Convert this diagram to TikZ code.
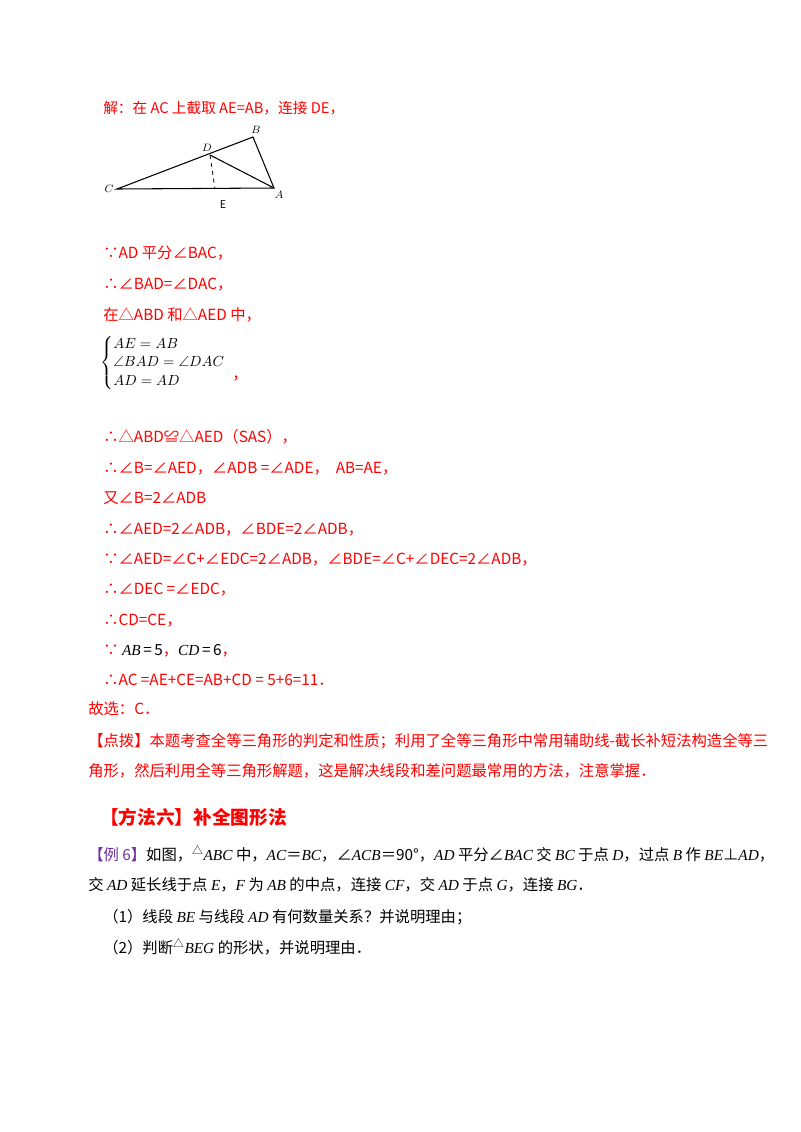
\documentclass[tikz,border=0pt]{standalone}
\usepackage{amsmath,amssymb}
\usepackage{fontspec}
\setmainfont{Noto Sans CJK SC}
\newfontfamily\tms{Liberation Serif}
\newcommand{\mi}[1]{{\tms\itshape #1}}
\definecolor{rd}{HTML}{FF0000}
\definecolor{pu}{HTML}{7030A0}
\begin{document}
\begin{tikzpicture}[x=0.75pt,y=-0.75pt,
  t/.style={anchor=base west,inner sep=0pt,font=\fontsize{11.5pt}{13pt}\selectfont,text=rd},
  k/.style={anchor=base west,inner sep=0pt,font=\fontsize{11.5pt}{13pt}\selectfont,text=black},
  lb/.style={inner sep=0pt,font=\fontsize{8pt}{9pt}\selectfont\itshape}]
\useasboundingbox[fill=white] (0,0) rectangle (800,1132);
\node[t,font=\fontsize{11pt}{13pt}\selectfont] (l1) at (103,113) {解：在 AC 上截取 AE=AB，连接 DE，};
% figure
\coordinate (C) at (117,189);
\coordinate (B) at (253,137);
\coordinate (D) at (210,155);
\coordinate (A) at (274,188);
\coordinate (Ef) at (215,189);
\draw[line width=0.8pt] (C) -- (B) -- (A) -- cycle;
\draw[line width=0.8pt] (D) -- (A);
\draw[dashed,line width=0.6pt] (D) -- (Ef);
\node[lb] (lC) at (109,189) {$C$};
\node[lb] (lB) at (256,130) {$B$};
\node[lb] (lD) at (207,148) {$D$};
\node[lb] (lA) at (279,195) {$A$};
\node[lb,font=\fontsize{8pt}{9pt}\selectfont] (lE) at (223,205) {E};
\node[t] (l2) at (103,258) {∵AD 平分∠BAC，};
\node[t] (l3) at (103,289) {∴∠BAD=∠DAC，};
\node[t] (l4) at (103,320) {在△ABD 和△AED 中，};
\node[anchor=west,inner sep=0pt,font=\fontsize{11pt}{14pt}\selectfont] (sys) at (100,363)
  {$\left\{\begin{array}{@{}l@{}}AE=AB\\ \angle BAD=\angle DAC\\ AD=AD\end{array}\right.$};
\node[t] (comma) at (232,379) {，};
\node[t] (l5) at (103,442) {∴△ABD≌△AED（SAS），};
\node[t] (l6) at (103,473) {∴∠B=∠AED，∠ADB =∠ADE，\ \ AB=AE，};
\node[t] (l7) at (103,503) {又∠B=2∠ADB};
\node[t] (l8) at (103,534) {∴∠AED=2∠ADB，∠BDE=2∠ADB，};
\node[t] (l9) at (103,564) {∵∠AED=∠C+∠EDC=2∠ADB，∠BDE=∠C+∠DEC=2∠ADB，};
\node[t] (l10) at (103,594) {∴∠DEC =∠EDC，};
\node[t] (l11) at (103,625) {∴CD=CE，};
\node[t] (l12) at (103,655) {∵ \textcolor{black}{\mi{AB}\,=\,5}，\textcolor{black}{\mi{CD}\,=\,6}，};
\node[t] (l13) at (103,685) {∴AC =AE+CE=AB+CD = 5+6=11．};
\node[t] (l14) at (88,714) {故选：C．};
\node[t] (l15) at (88,746) {【点拨】本题考查全等三角形的判定和性质；利用了全等三角形中常用辅助线-截长补短法构造全等三};
\node[t] (l16) at (88,776) {角形，然后利用全等三角形解题，这是解决线段和差问题最常用的方法，注意掌握．};
\node[anchor=base west,inner sep=0pt,font=\fontsize{14pt}{17pt}\selectfont\bfseries,text=rd] (h) at (100,824) {【方法六】补全图形法};
\node[k] (e1) at (88,860) {\textcolor{pu}{【例 6】}如图，\textsuperscript{△}\mi{ABC} 中，\mi{AC}＝\mi{BC}，∠\mi{ACB}＝90°，\mi{AD} 平分∠\mi{BAC} 交 \mi{BC} 于点 \mi{D}，过点 \mi{B} 作 \mi{BE}⊥\mi{AD}，};
\node[k] (e2) at (88,890) {交 \mi{AD} 延长线于点 \mi{E}，\mi{F} 为 \mi{AB} 的中点，连接 \mi{CF}，交 \mi{AD} 于点 \mi{G}，连接 \mi{BG}．};
\node[k] (e3) at (103,922) {（1）线段 \mi{BE} 与线段 \mi{AD} 有何数量关系？并说明理由；};
\node[k] (e4) at (103,953) {（2）判断\textsuperscript{△}\mi{BEG} 的形状，并说明理由．};
\end{tikzpicture}
\end{document}
